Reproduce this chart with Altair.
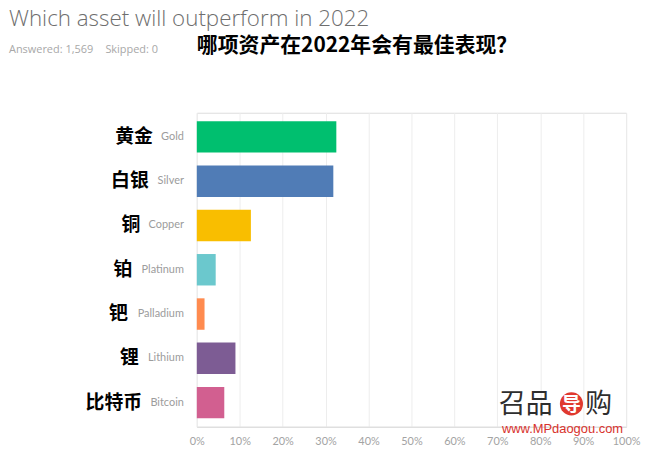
import altair as alt
import pandas as pd

# ---- data ----
assets_en = ["Gold", "Silver", "Copper", "Platinum", "Palladium", "Lithium", "Bitcoin"]
assets_zh = ["黄金", "白银", "铜", "铂", "钯", "锂", "比特币"]
shares = [32.5, 31.8, 12.6, 4.4, 1.8, 9.0, 6.4]
bar_colors = ["#00BF6F", "#507CB6", "#F9BE00", "#6BC8CD", "#FF8B4F", "#7D5C94", "#D25F90"]
tick_values = [0, 10, 20, 30, 40, 50, 60, 70, 80, 90, 100]

title_en = "Which asset will outperform in 2022"
answered_txt = "Answered: 1,569"
skipped_txt = "Skipped: 0"
title_zh = "哪项资产在2022年会有最佳表现？"
wm_a = "召品"
wm_b = "导"
wm_c = "购"
wm_url = "www.MPdaogou.com"

# ---- approximate text metrics for the small English labels (11px Lato) ----
EN_SIZE = 11
_w = {"G": .66, "S": .52, "C": .6, "P": .58, "L": .5, "B": .6, "o": .55, "l": .24,
      "d": .56, "i": .24, "v": .5, "e": .53, "r": .36, "p": .56, "a": .52, "t": .34,
      "n": .56, "u": .56, "m": .85, "h": .56, "c": .47}


def text_w(s):
    return sum(_w.get(ch, .55) for ch in s) * EN_SIZE


EN_RIGHT = -13
GAP = 9

df = pd.DataFrame({
    "en": assets_en,
    "zh": assets_zh,
    "share": shares,
})
df["zh_x"] = [EN_RIGHT - text_w(s) - GAP for s in assets_en]

yenc = alt.Y("en:N", sort=assets_en, axis=None,
             scale=alt.Scale(paddingInner=0.29, paddingOuter=0.19))

bars = alt.Chart(df).mark_bar().encode(
    x=alt.X("share:Q", scale=alt.Scale(domain=[0, 100], nice=False),
            axis=alt.Axis(values=tick_values, labelExpr="datum.value + '%'", title=None,
                          grid=True, gridColor="#ededed", domain=True, domainColor="#dcdcdc",
                          ticks=False, labelPadding=9, labelColor="#a3a3a3", labelFontSize=11,
                          labelFont="Lato", labelFlush=False)),
    y=yenc,
    color=alt.Color("en:N", scale=alt.Scale(domain=assets_en, range=bar_colors), legend=None),
)

en_labels = alt.Chart(df).mark_text(align="right", baseline="middle", font="Lato",
                                    fontSize=EN_SIZE, color="#9c9c9c").encode(
    x=alt.value(EN_RIGHT), y=yenc, text="en:N")

zh_labels = alt.Chart(df).mark_text(align="right", baseline="middle", font="Noto Sans CJK SC",
                                    fontSize=19, fontWeight="bold", color="#000000").encode(
    x=alt.X("zh_x:Q", scale=None, axis=None), y=yenc, text="zh:N")

one = pd.DataFrame({"k": [0]})


def label(txt, x, y, **kw):
    return alt.Chart(one).mark_text(**kw).encode(x=alt.value(x), y=alt.value(y), text=alt.value(txt))


t1 = label(title_en, -189, -87, align="left", baseline="alphabetic", font="Open Sans",
           fontSize=22.5, fontWeight=300, color="#6e6e6e")
t2 = label(answered_txt, -189, -60, align="left", baseline="alphabetic", font="Open Sans",
           fontSize=11, color="#a8a8a8")
t3 = label(skipped_txt, -92, -60, align="left", baseline="alphabetic", font="Open Sans",
           fontSize=11, color="#a8a8a8")
t4 = label(title_zh, 0, -61, align="left", baseline="alphabetic", font="Noto Sans CJK SC",
           fontSize=21, fontWeight="bold", color="#000000")

w1 = label(wm_a, 304, 302, align="left", baseline="alphabetic", font="Noto Sans CJK SC",
           fontSize=27, color="#2e2e2e")
w_circle = alt.Chart(one).mark_circle(color="#E0392F", opacity=1, size=540).encode(
    x=alt.value(377), y=alt.value(293))
w2 = label(wm_b, 377, 294, align="center", baseline="middle", font="Noto Sans CJK SC",
           fontSize=19, fontWeight="bold", color="#ffffff")
w3 = label(wm_c, 391, 302, align="left", baseline="alphabetic", font="Noto Sans CJK SC",
           fontSize=27, color="#2e2e2e")
w4 = label(wm_url, 307, 322, align="left", baseline="alphabetic", font="Liberation Sans",
           fontSize=13, color="#D8322C")

chart = alt.layer(bars, en_labels, zh_labels, t1, t2, t3, t4, w1, w_circle, w2, w3, w4).resolve_scale(
    x="independent"
).properties(
    width=432, height=316,
    autosize=alt.AutoSizeParams(type="none"),
    padding={"left": 190, "top": 104, "right": 16, "bottom": 25},
).configure_view(stroke=None).configure(background="#ffffff")

chart.save("out.html", embed_options={"renderer": "svg", "actions": False})
